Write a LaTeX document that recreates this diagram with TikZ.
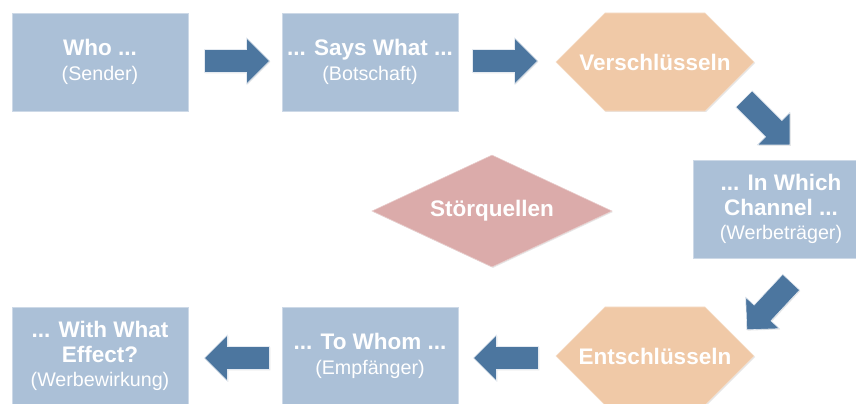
\documentclass[tikz,border=0pt]{standalone}
\usepackage{tikz}
\usepackage{xcolor}
\usepackage{fontspec}
\setmainfont{Liberation Sans}
\usetikzlibrary{shapes.geometric,shapes.symbols,shadows}
\definecolor{laswellBlue}{RGB}{171, 192, 215}
\definecolor{laswellPeach}{RGB}{240, 201, 167}
\definecolor{laswellRose}{RGB}{219, 171, 170}
\definecolor{laswellArrow}{RGB}{76, 118, 159}

\tikzset{
  stage/.style={rectangle, fill=laswellBlue, draw=laswellBlue!60!white, line width=0.4pt,
    minimum width=4.4cm, minimum height=2.45cm, text=white, align=center,
    font=\fontsize{16}{17.5}\selectfont,
    drop shadow={opacity=0.25, shadow xshift=0.7pt, shadow yshift=-0.7pt}},
  coding/.style={signal, signal to=east and west, signal pointer angle=90,
    fill=laswellPeach, draw=laswellPeach!60!white, line width=0.4pt,
    minimum width=4.9cm, minimum height=2.45cm, text=white, inner sep=0pt,
    font=\fontsize{16}{17.5}\selectfont,
    drop shadow={opacity=0.2, shadow xshift=0.7pt, shadow yshift=-0.7pt}},
  noise/.style={diamond, aspect=2.13, fill=laswellRose, draw=laswellRose!60!white, line width=0.4pt,
    minimum width=6.0cm, minimum height=2.8cm, text=white, inner sep=0pt,
    font=\fontsize{16}{17.5}\selectfont,
    drop shadow={opacity=0.2, shadow xshift=0.7pt, shadow yshift=-0.7pt}},
  blockarrow/.pic={
    \fill[laswellArrow, draw=white!85!laswellArrow, line width=0.4pt,
      drop shadow={opacity=0.2, shadow xshift=0.6pt, shadow yshift=-0.6pt}]
      (-32.5,-11.5) -- (9.5,-11.5) -- (9.5,-23) -- (32.5,0)
      -- (9.5,23) -- (9.5,11.5) -- (-32.5,11.5) -- cycle;
  }
}
\newcommand{\head}[1]{{\bfseries #1}}
\newcommand{\sub}[1]{{\fontsize{14}{17.5}\selectfont #1}}

\begin{document}
\begin{tikzpicture}[x=0.025cm, y=0.025cm]
  \useasboundingbox (0,0) rectangle (856,403);
  \begin{scope}
    \clip (0,0) rectangle (856,403);
    % top row
    \node[stage] (who) at (100,341) {\head{Who ...}\\ \sub{(Sender)}};
    \node[stage] (says) at (370,341) {\head{... Says What ...}\\ \sub{(Botschaft)}};
    \node[coding] (encode) at (655,341) {\makebox[2.5cm]{\head{Verschlüsseln}}};
    % middle row
    \node[stage] (channel) at (781,194) {\head{... In Which}\\ \head{Channel ...}\\ \sub{(Werbeträger)}};
    \node[noise] (noise) at (492,192) {\head{Störquellen}};
    % bottom row
    \node[coding] (decode) at (655,47) {\makebox[2.5cm]{\head{Entschlüsseln}}};
    \node[stage] (whom) at (370,47) {\head{... To Whom ...}\\ \sub{(Empfänger)}};
    \node[stage] (effect) at (100,47) {\head{... With What}\\ \head{Effect?}\\ \sub{(Werbewirkung)}};
    % block arrows
    \pic (a1) at (237,342) {blockarrow};
    \pic (a2) at (505,342) {blockarrow};
    \pic[rotate=-45] (a3) at (767,281) {blockarrow};
    \pic[rotate=-133] (a4) at (769,97) {blockarrow};
    \pic[rotate=180] (a5) at (506,45) {blockarrow};
    \pic[rotate=180] (a6) at (237,45) {blockarrow};
  \end{scope}
\end{tikzpicture}
\end{document}
